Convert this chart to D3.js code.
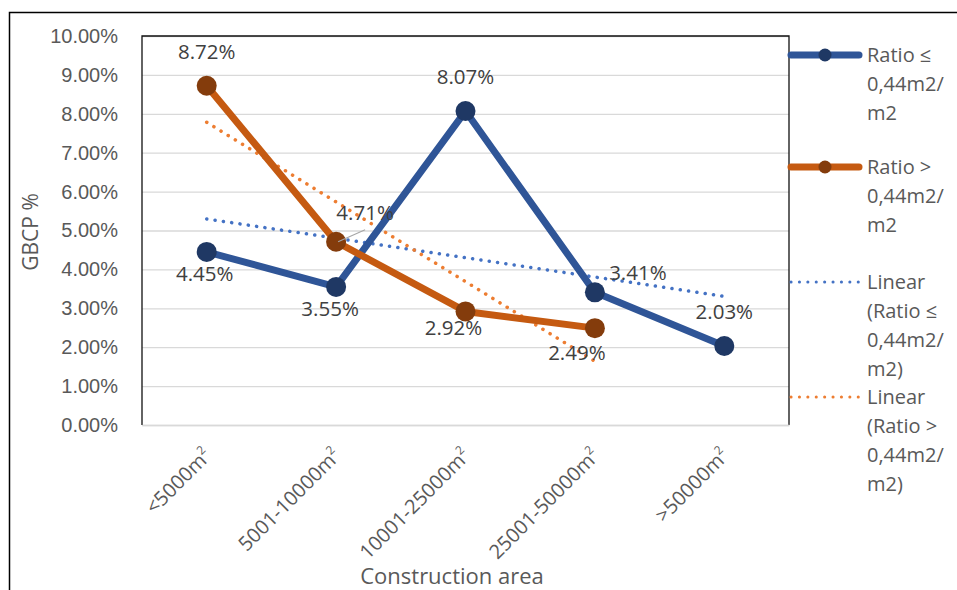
<!DOCTYPE html>
<html>
<head>
<meta charset="utf-8">
<script src="https://cdn.jsdelivr.net/npm/d3@7"></script>
<style>
  html, body { margin: 0; padding: 0; background: #fff; }
  svg { display: block; font-family: "Open Sans", "Noto Sans", sans-serif; }
</style>
</head>
<body>
<svg id="chart" width="957" height="590"></svg>
<script>
// ---------- data ----------
const categories = ["<5000m", "5001-10000m", "10001-25000m", "25001-50000m", ">50000m"];
const seriesLow = [4.45, 3.55, 8.07, 3.41, 2.03];        // Ratio ≤ 0,44m2/m2
const seriesHigh = [8.72, 4.71, 2.92, 2.49, null];       // Ratio > 0,44m2/m2
const yTicks = [0, 1, 2, 3, 4, 5, 6, 7, 8, 9, 10];
const seriesNames = ["Ratio ≤ 0,44m2/m2", "Ratio > 0,44m2/m2"];

// ---------- layout / style ----------
const W = 957, H = 590;
const plot = { left: 142, top: 36, right: 789, bottom: 425 };
const colors = {
  lowLine: "#2f5597", lowMarker: "#1f3864", lowTrend: "#4472c4",
  highLine: "#c55a11", highMarker: "#843c0c", highTrend: "#ed7d31",
  text: "#595959", label: "#404040", grid: "#d9d9d9"
};
// label offsets relative to the point (dx, dy of label centre)
const lowLabelOff = [[-2, 22], [-6, 22], [0, -34], [43, -20], [0, -34]];
const highLabelOff = [[0, -34], [29, -29], [-12, 16], [-18, 25]];

const svg = d3.select("#chart");

// outer frame
svg.append("rect").attr("x", 9.5).attr("y", 12.5).attr("width", 1000).attr("height", 700)
  .attr("fill", "none").attr("stroke", "#000").attr("stroke-width", 1.5);

const x = d3.scaleBand().domain(categories).range([plot.left, plot.right]);
const y = d3.scaleLinear().domain([0, 10]).range([plot.bottom, plot.top]);
const cx = c => x(c) + x.bandwidth() / 2;

// gridlines
const yAxis = d3.axisLeft(y).tickValues(yTicks)
  .tickSize(-(plot.right - plot.left)).tickFormat(d => d.toFixed(2) + "%").tickPadding(24);
const gy = svg.append("g").attr("transform", `translate(${plot.left},0)`).call(yAxis);
gy.select(".domain").remove();
gy.selectAll(".tick line").attr("stroke", colors.grid).attr("stroke-width", 1.3);
gy.selectAll(".tick text").attr("fill", colors.text).attr("font-size", 20);

// plot border (left, top, right dark)
svg.append("path")
  .attr("d", `M${plot.left},${plot.bottom}V${plot.top}H${plot.right}V${plot.bottom}`)
  .attr("fill", "none").attr("stroke", "#111").attr("stroke-width", 1.3);

// x axis labels
const xAxis = d3.axisBottom(x).tickSize(0).tickFormat("");
const gx = svg.append("g").attr("transform", `translate(0,${plot.bottom})`).call(xAxis);
gx.select(".domain").attr("stroke", colors.grid).attr("stroke-width", 1.3);
categories.forEach(c => {
  const t = svg.append("text")
    .attr("transform", `translate(${cx(c) + 1},${plot.bottom + 27}) rotate(-45)`)
    .attr("text-anchor", "end").attr("fill", colors.text).attr("font-size", 20)
    .attr("dy", "0.35em");
  t.append("tspan").text(c);
  t.append("tspan").attr("font-size", 12).attr("dy", "-0.75em").text("2");
});

// trend lines (linear least-squares fit of each series, as the chart's trendlines)
function linearFit(vals) {
  const pts = vals.map((v, i) => [i + 1, v]).filter(p => p[1] != null);
  const mx = d3.mean(pts, p => p[0]), my = d3.mean(pts, p => p[1]);
  const sxy = d3.sum(pts, p => (p[0] - mx) * (p[1] - my));
  const sxx = d3.sum(pts, p => (p[0] - mx) ** 2);
  const b = sxy / sxx, a = my - b * mx;
  return pts.map(p => ({ i: p[0] - 1, v: a + b * p[0] }));
}
const trendLine = d3.line().x(d => cx(categories[d.i])).y(d => y(d.v));
[[seriesLow, colors.lowTrend], [seriesHigh, colors.highTrend]].forEach(([s, col]) => {
  const fit = linearFit(s);
  svg.append("path").datum([fit[0], fit[fit.length - 1]]).attr("d", trendLine)
    .attr("fill", "none").attr("stroke", col).attr("stroke-width", 3.5)
    .attr("stroke-linecap", "round").attr("stroke-dasharray", "0.1 8.3");
});

// series
const line = d3.line().defined(d => d.v != null).x(d => cx(categories[d.i])).y(d => y(d.v));
function drawSeries(vals, lineCol, markCol) {
  const data = vals.map((v, i) => ({ i, v }));
  svg.append("path").datum(data).attr("d", line).attr("fill", "none")
    .attr("stroke", lineCol).attr("stroke-width", 7).attr("stroke-linejoin", "round");
  svg.selectAll(null).data(data.filter(d => d.v != null)).enter().append("circle")
    .attr("cx", d => cx(categories[d.i])).attr("cy", d => y(d.v)).attr("r", 10)
    .attr("fill", markCol);
}
drawSeries(seriesLow, colors.lowLine, colors.lowMarker);
drawSeries(seriesHigh, colors.highLine, colors.highMarker);

// leader line for 4.71%
svg.append("line")
  .attr("x1", cx(categories[1]) + 2).attr("y1", y(seriesHigh[1]))
  .attr("x2", cx(categories[1]) + 29).attr("y2", y(seriesHigh[1]) - 12)
  .attr("stroke", "#a6a6a6").attr("stroke-width", 1.2);

// data labels
function drawLabels(vals, offs) {
  vals.forEach((v, i) => {
    if (v == null) return;
    svg.append("text").attr("x", cx(categories[i]) + offs[i][0]).attr("y", y(v) + offs[i][1])
      .attr("dy", "0.35em").attr("text-anchor", "middle")
      .attr("fill", colors.label).attr("font-size", 20.5).text(v.toFixed(2) + "%");
  });
}
drawLabels(seriesLow, lowLabelOff);
drawLabels(seriesHigh, highLabelOff);

// axis titles
svg.append("text").attr("transform", `translate(31,232) rotate(-90)`)
  .attr("text-anchor", "middle").attr("dy", "0.35em").attr("fill", colors.text)
  .attr("font-size", 21).text("GBCP %");
svg.append("text").attr("x", 452).attr("y", 576).attr("dy", "0.35em")
  .attr("text-anchor", "middle").attr("fill", colors.text).attr("font-size", 22)
  .text("Construction area");

// legend
const legend = [
  { type: "series", line: colors.lowLine, mark: colors.lowMarker, y: 55,
    lines: ["Ratio ≤", "0,44m2/", "m2"] },
  { type: "series", line: colors.highLine, mark: colors.highMarker, y: 167,
    lines: ["Ratio >", "0,44m2/", "m2"] },
  { type: "trend", line: colors.lowTrend, y: 282,
    lines: ["Linear", "(Ratio ≤", "0,44m2/", "m2)"] },
  { type: "trend", line: colors.highTrend, y: 397,
    lines: ["Linear", "(Ratio >", "0,44m2/", "m2)"] }
];
legend.forEach(l => {
  const g = svg.append("g");
  if (l.type === "series") {
    g.append("line").attr("x1", 791).attr("x2", 859).attr("y1", l.y).attr("y2", l.y)
      .attr("stroke", l.line).attr("stroke-width", 7).attr("stroke-linecap", "round");
    g.append("circle").attr("cx", 825).attr("cy", l.y).attr("r", 6.5).attr("fill", l.mark);
  } else {
    g.append("line").attr("x1", 791).attr("x2", 859).attr("y1", l.y).attr("y2", l.y)
      .attr("stroke", l.line).attr("stroke-width", 3).attr("stroke-linecap", "round")
      .attr("stroke-dasharray", "0.1 8.3");
  }
  l.lines.forEach((t, k) => {
    g.append("text").attr("x", 867).attr("y", l.y + k * 29).attr("dy", "0.35em")
      .attr("fill", colors.text).attr("font-size", 20).text(t);
  });
});
</script>
</body>
</html>
